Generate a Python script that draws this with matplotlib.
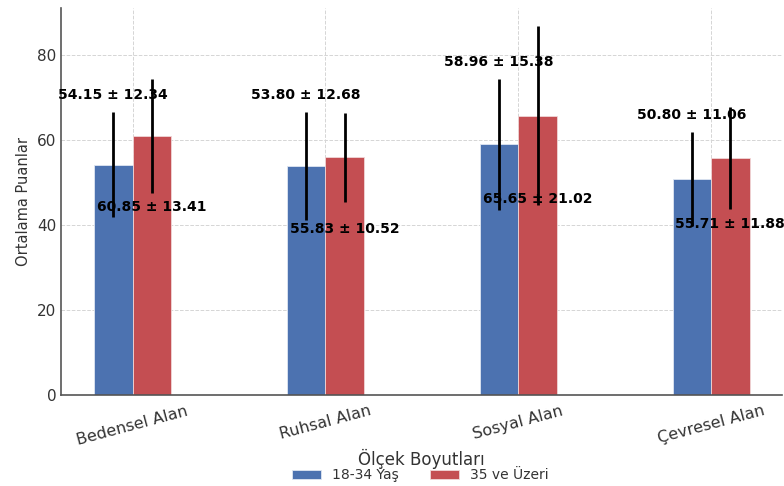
import matplotlib.pyplot as plt
import numpy as np

# Scale dimensions and group statistics
categories = ["Bedensel Alan", "Ruhsal Alan", "Sosyal Alan", "Çevresel Alan"]
young_mean = [54.15, 53.80, 58.96, 50.80]
young_sd = [12.34, 12.68, 15.38, 11.06]
older_mean = [60.85, 55.83, 65.65, 55.71]
older_sd = [13.41, 10.52, 21.02, 11.88]
group_labels = ["18-34 Yaş", "35 ve Üzeri"]

# vertical gap between the lower whisker and the red labels
older_label_gap = [3.2, 6.2, -1.5, 3.6]

x = np.arange(len(categories))
width = 0.2

fig = plt.figure(figsize=(7.84, 4.86), dpi=100)
ax = fig.add_axes([0.078, 0.187, 0.92, 0.797])

ax.bar(x - width / 2, young_mean, width, yerr=young_sd, color="#4C72B0",
       edgecolor="#dfe6f2", linewidth=0.6, label=group_labels[0],
       error_kw=dict(ecolor="black", elinewidth=2, capsize=0))
ax.bar(x + width / 2, older_mean, width, yerr=older_sd, color="#C44E52",
       edgecolor="#f0d6d7", linewidth=0.6, label=group_labels[1],
       error_kw=dict(ecolor="black", elinewidth=2, capsize=0))

for i in range(len(categories)):
    ax.text(x[i] - width / 2, young_mean[i] + young_sd[i] + 4.0,
            f"{young_mean[i]:.2f} ± {young_sd[i]:.2f}",
            ha="center", va="center", fontsize=10, fontweight="bold")
    ax.text(x[i] + width / 2, older_mean[i] - older_sd[i] - older_label_gap[i],
            f"{older_mean[i]:.2f} ± {older_sd[i]:.2f}",
            ha="center", va="center", fontsize=10, fontweight="bold")

ax.set_xticks(x)
ax.set_xticklabels(categories, rotation=15, fontsize=11.5, color="#333333")
ax.tick_params(axis="y", labelsize=11, labelcolor="#333333", length=0)
ax.tick_params(axis="x", length=0, pad=6)
ax.set_yticks([0, 20, 40, 60, 80])

ax.set_xlabel("Ölçek Boyutları", fontsize=12, color="#333333", labelpad=1)
ax.set_ylabel("Ortalama Puanlar", fontsize=10.5, color="#333333")

ax.grid(True, linestyle="--", color="#d5d5d5", linewidth=0.7)
ax.set_axisbelow(True)
for side in ["top", "right"]:
    ax.spines[side].set_visible(False)
for side in ["left", "bottom"]:
    ax.spines[side].set_color("#555555")
    ax.spines[side].set_linewidth(1.2)

fig.legend(loc="lower center", bbox_to_anchor=(0.536, -0.018), ncol=2,
           frameon=False, fontsize=10, handlelength=2.1, handleheight=0.6,
           columnspacing=2.2, labelcolor="#333333")

fig.savefig("out.png", dpi=100)
